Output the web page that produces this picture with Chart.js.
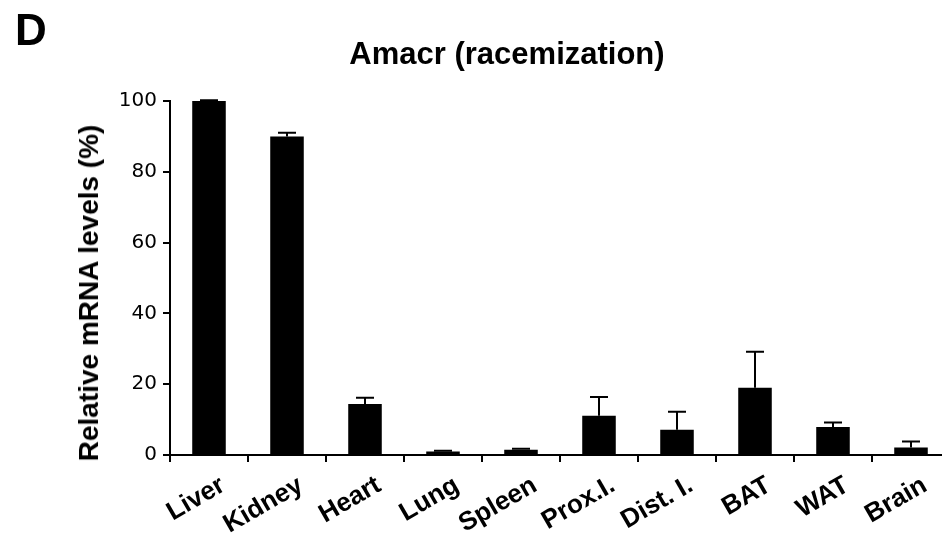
<!DOCTYPE html>
<html>
<head>
    <title>Amacr (racemization)</title>
    <script src="https://cdn.jsdelivr.net/npm/chart.js"></script>
    <style>
        html, body { margin: 0; padding: 0; background: #fff; overflow: hidden; }
        #wrap { position: relative; width: 942px; height: 536px; overflow: hidden; }
        canvas { position: absolute; left: 0; top: 0; }
        .txt { position: absolute; font-family: "Liberation Sans", Arial, sans-serif; font-weight: bold; color: #000; line-height: 1; white-space: nowrap; }
        #panel { left: 15px; top: 8px; font-size: 44px; }
        #title { left: 507px; top: 38px; font-size: 31px; transform: translateX(-50%); }
        #ytitle { left: 89px; top: 293px; font-size: 28px; transform: translate(-50%, -50%) rotate(-90deg); }
    </style>
</head>
<body>
<div id="wrap">
    <canvas id="amacrChart" width="952" height="536"></canvas>
    <div class="txt" id="panel">D</div>
    <div class="txt" id="title">Amacr (racemization)</div>
    <div class="txt" id="ytitle">Relative mRNA levels (%)</div>
</div>

<script>
    // tissues and mean relative mRNA levels (% of liver), upper SEM
    var tissues = ['Liver', 'Kidney', 'Heart', 'Lung', 'Spleen', 'Prox.I.', 'Dist. I.', 'BAT', 'WAT', 'Brain'];
    var levels = [100, 90, 14.4, 1.0, 1.5, 11.1, 7.1, 19.0, 7.9, 2.1];
    var errors = [0.2, 1.0, 1.8, 0.2, 0.3, 5.3, 5.1, 10.2, 1.3, 1.7];
    var yTicks = [0, 20, 40, 60, 80, 100];

    // draws the upper error bars (line + cap) above every bar
    var errorBars = {
        id: 'errorBars',
        afterDatasetsDraw: function (chart) {
            var ctx = chart.ctx;
            var yScale = chart.scales.y;
            var bars = chart.getDatasetMeta(0).data;
            ctx.save();
            ctx.strokeStyle = '#000';
            ctx.lineWidth = 2;
            bars.forEach(function (bar, i) {
                var top = yScale.getPixelForValue(levels[i] + errors[i]);
                ctx.beginPath();
                ctx.moveTo(bar.x, bar.y);
                ctx.lineTo(bar.x, top);
                ctx.moveTo(bar.x - 9, top);
                ctx.lineTo(bar.x + 9, top);
                ctx.stroke();
            });
            ctx.restore();
        }
    };

    var ctx = document.getElementById('amacrChart').getContext('2d');
    var chart = new Chart(ctx, {
        type: 'bar',
        data: {
            labels: tissues,
            datasets: [{
                data: levels,
                backgroundColor: '#000',
                borderWidth: 0,
                categoryPercentage: 1.0,
                barPercentage: 0.43
            }]
        },
        options: {
            responsive: false,
            animation: false,
            layout: { padding: { top: 101, right: 2, left: 0, bottom: 0 } },
            plugins: {
                legend: { display: false },
                tooltip: { enabled: false }
            },
            scales: {
                x: {
                    offset: true,
                    afterFit: function (scale) { scale.height = 81; },
                    border: { color: '#000', width: 2 },
                    grid: {
                        offset: true,
                        drawOnChartArea: false,
                        drawTicks: true,
                        tickLength: 7,
                        color: '#000',
                        lineWidth: 2
                    },
                    ticks: {
                        color: '#000',
                        minRotation: 30,
                        maxRotation: 30,
                        padding: 8,
                        labelOffset: 14,
                        font: { family: '"Liberation Sans", Arial, sans-serif', size: 26, weight: 'bold' }
                    }
                },
                y: {
                    min: 0,
                    max: 100,
                    afterFit: function (scale) { scale.width = 170; },
                    afterBuildTicks: function (scale) {
                        scale.ticks = yTicks.map(function (v) { return { value: v }; });
                    },
                    border: { color: '#000', width: 2 },
                    grid: {
                        drawOnChartArea: false,
                        drawTicks: true,
                        tickLength: 7,
                        color: '#000',
                        lineWidth: 2
                    },
                    ticks: {
                        color: '#000',
                        padding: 6,
                        font: { family: '"DejaVu Sans", Verdana, sans-serif', size: 20 }
                    }
                }
            }
        },
        plugins: [errorBars]
    });
</script>
</body>
</html>
